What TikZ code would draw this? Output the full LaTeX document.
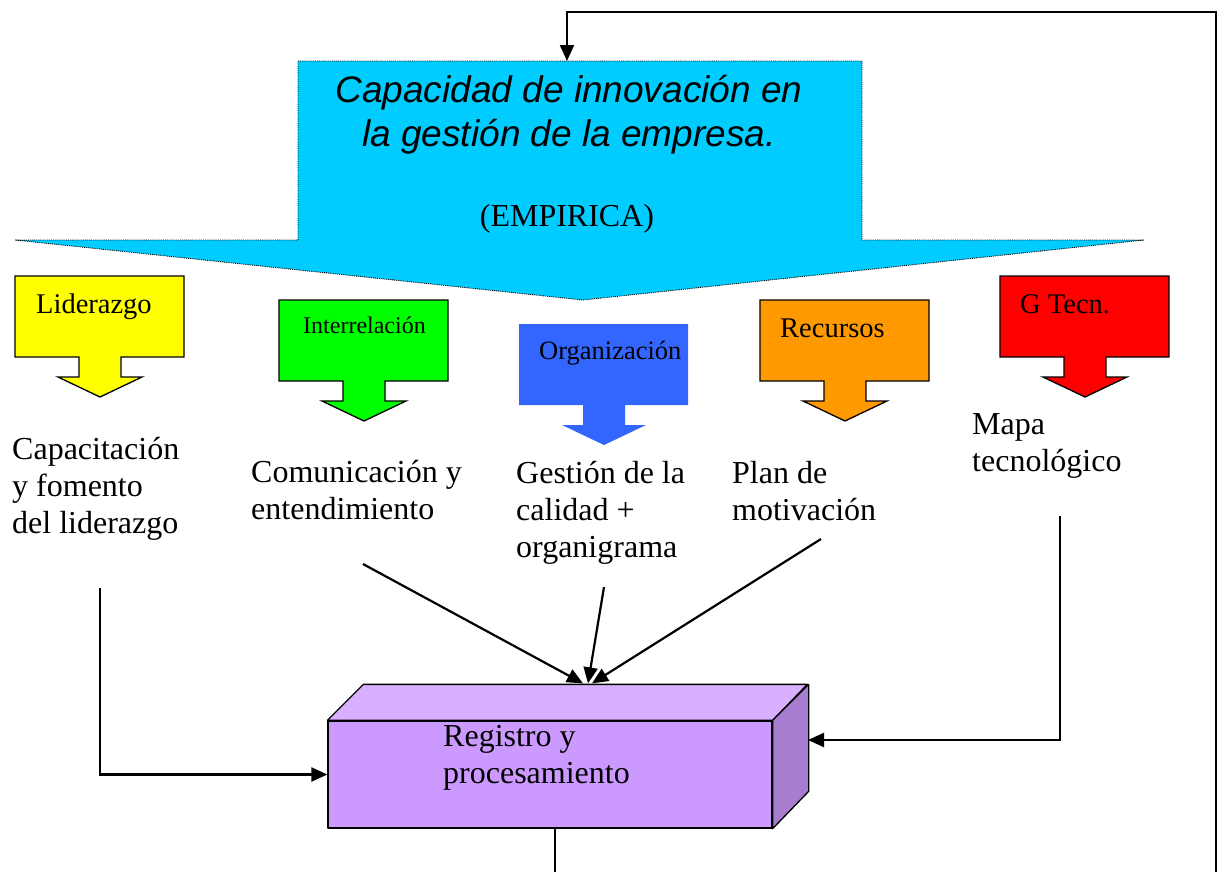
\documentclass[tikz,border=0pt]{standalone}
\usepackage{fontspec}
\setmainfont{Liberation Serif}
\newfontfamily\arialfont{Liberation Sans}
\usepackage{tikz}
\usetikzlibrary{arrows.meta}
\definecolor{skyc}{HTML}{00CCFF}
\definecolor{lidc}{HTML}{FFFF00}
\definecolor{intc}{HTML}{00FF00}
\definecolor{orgc}{HTML}{3366FF}
\definecolor{recc}{HTML}{FF9900}
\definecolor{tecc}{HTML}{FF0000}
\definecolor{boxfront}{HTML}{CC99FF}
\definecolor{boxtop}{HTML}{D9B0FF}
\definecolor{boxside}{HTML}{A67DCF}
\tikzset{
  line/.style={draw=black, line width=2.2pt, line join=miter},
  conn/.style={line, -{Triangle[length=16pt,width=14pt]}},
  callout/.style={line width=1.3pt, line join=miter},
  face/.style={draw=black, line width=1.3pt, line join=round},
  tag/.style={inner sep=0pt, anchor=base west, font=\fontsize{28.5}{34}\selectfont},
  txt/.style={inner sep=0pt, anchor=base west, align=left, font=\fontsize{32}{37}\selectfont},
  title/.style={inner sep=0pt, anchor=base, align=center, font=\arialfont\itshape\fontsize{37}{44}\selectfont},
}

\begin{document}
\begin{tikzpicture}[x=1pt,y=-1pt]
  \useasboundingbox (0,0) rectangle (1219,871);
  \clip (0,0) rectangle (1219,871);

  % big arrow
  \path[fill=skyc, draw=black, densely dotted, line width=0.9pt]
    (298,61) -- (862,61) -- (862,240) -- (1144,240) -- (583,300) -- (15,240) -- (298,240) -- cycle;
  \coordinate (captop) at (567,61);
  % base = last line
  \node[title] (cap) at (569,146) {Capacidad de innovación en\\la gestión de la empresa.};
  \node[txt, anchor=base] (emp) at (567,226) {(EMPIRICA)};

  % five small arrows
  \foreach \x/\y/\c/\d in {15/276/lidc/black, 279/300/intc/black, 519/324/orgc/none, 760/300/recc/black, 1000/276/tecc/black}{
    \path[callout, fill=\c, draw=\d] (\x,\y) -- ++(169,0) -- ++(0,81) -- ++(-63,0) -- ++(0,20) -- ++(21,0)
      -- ++(-42,20) -- ++(-42,-20) -- ++(21,0) -- ++(0,-20) -- ++(-64,0) -- cycle;
  }
  \node[tag] (lid) at (36,313) {Liderazgo};
  \node[tag, font=\fontsize{24}{28}\selectfont] (int) at (303,333) {Interrelación};
  \node[tag, font=\fontsize{26.5}{30}\selectfont] (org) at (539,359) {Organización};
  \node[tag] (rec) at (780,337) {Recursos};
  \node[tag] (tec) at (1020,313) {G Tecn.};

  \node[txt] (capt) at (12,533) {Capacitación\\y fomento\\del liderazgo};
  \node[txt] (comt) at (251,519) {Comunicación y\\entendimiento};
  \node[txt] (gest) at (516,557) {Gestión de la\\calidad +\\organigrama};
  \node[txt] (plat) at (732,520) {Plan de\\motivación};
  \node[txt] (mapt) at (972,471) {Mapa\\tecnológico};

  % the box
  \node[face, fill=boxfront, minimum width=444pt, minimum height=107pt, inner sep=0pt] (reg) at (550,774.5) {};
  \draw[face, fill=boxtop] (reg.north west) -- ++(36,-36) -- ++(444,0) -- (reg.north east) -- cycle;
  \draw[face, fill=boxside] (reg.north east) -- ++(36,-36) -- ++(0,107) -- (reg.south east) -- cycle;
  \node[txt] (regt) at (443,783) {Registro y\\procesamiento};

  \coordinate (capend) at (100,588);
  \coordinate (comend) at (363,564);
  \coordinate (gesend) at (604,587);
  \coordinate (plaend) at (821,539);
  \coordinate (mapend) at (1060,516);
  \coordinate (regside) at (808,740);
  \coordinate (regout) at (555,828);

  \draw[conn] (capend) |- (reg.west);
  \draw[conn] (comend) -- ([xshift=33pt,yshift=37pt]reg.north);
  \draw[conn] (gesend) -- ([xshift=38pt,yshift=37pt]reg.north);
  \draw[conn] (plaend) -- ([xshift=42pt,yshift=37pt]reg.north);
  \draw[conn] (mapend) |- (regside);
  \draw[conn] (regout) -- (555,890) -| (1216,12) -| (captop);
\end{tikzpicture}
\end{document}
